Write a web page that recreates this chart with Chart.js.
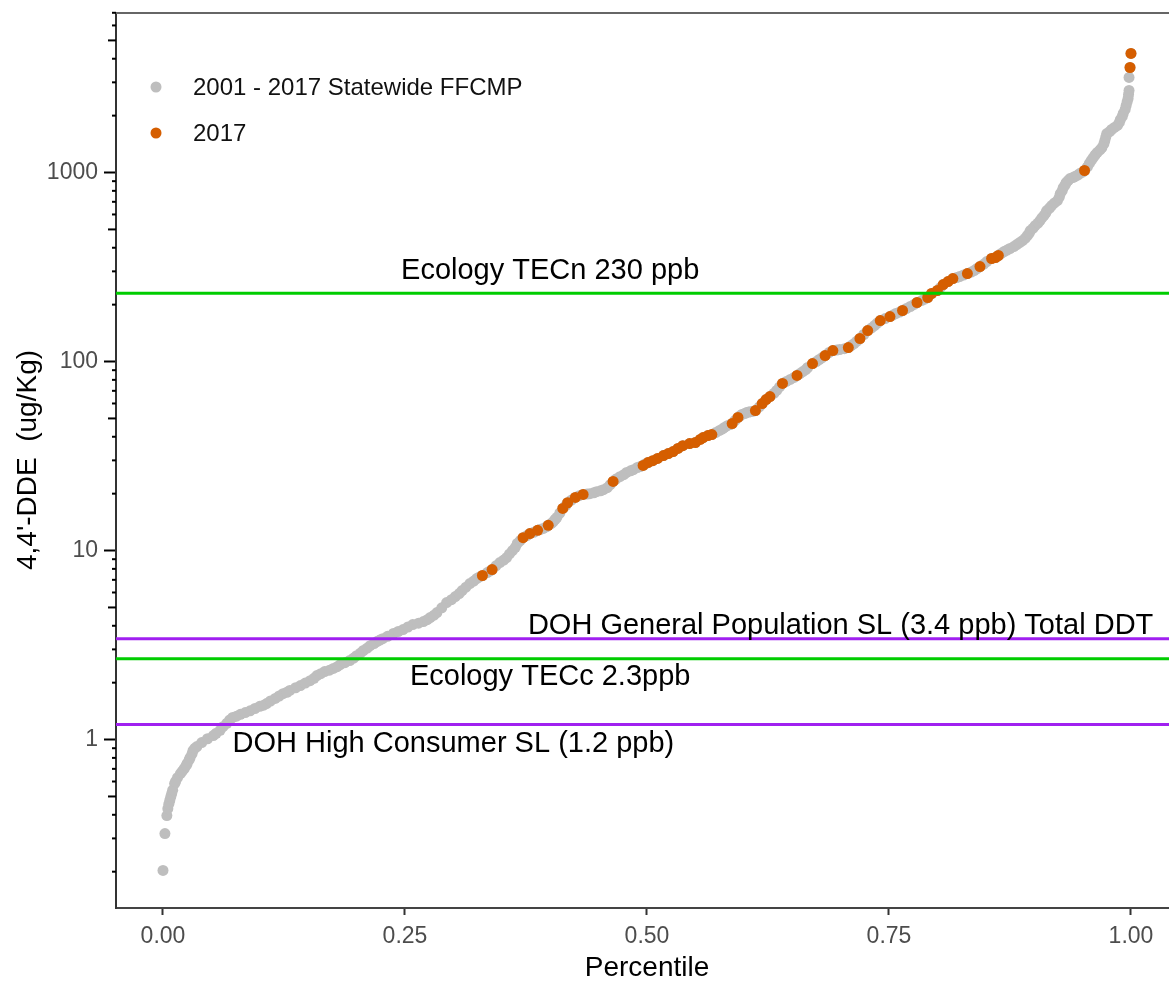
<!DOCTYPE html>
<html><head><meta charset="utf-8">
<script src="https://cdn.jsdelivr.net/npm/chart.js@4.4.1/dist/chart.umd.min.js"></script>
<style>html,body{margin:0;padding:0;background:#fff;overflow:hidden}#wrap{width:1169px;height:981px;position:relative}</style>
</head><body><div id="wrap"><canvas id="c" width="1169" height="981"></canvas></div>
<script>
const FONT = '"Liberation Sans", Arial, Helvetica, sans-serif';

const seriesLabels = ['2001 - 2017 Statewide FFCMP', '2017'];
const seriesColors = ['#BEBEBE', '#D55E00'];

// All samples (percentile, 4,4'-DDE ug/Kg) - first reading pass
const grayPct = [0,0.002,0.004,0.005,0.007,0.009,0.012,0.015,0.018,0.022,0.025,0.028,0.031,0.035,0.040,0.046,0.052,0.059,0.066,0.072,0.080,0.090,0.100,0.107,0.116,0.124,0.131,0.142,0.152,0.159,0.167,0.176,0.183,0.193,0.200,0.207,0.214,0.221,0.227,0.238,0.248,0.258,0.269,0.276,0.283,0.293,0.302,0.309,0.317,0.324,0.330,0.335,0.340,0.348,0.355,0.361,0.366,0.372,0.379,0.387,0.393,0.398,0.403,0.407,0.413,0.418,0.426,0.434,0.441,0.448,0.455,0.459,0.465,0.472,0.479,0.486,0.490,0.496,0.501,0.506,0.511,0.517,0.522,0.527,0.532,0.537,0.544,0.550,0.555,0.558,0.563,0.567,0.571,0.575,0.580,0.583,0.588,0.594,0.598,0.603,0.607,0.612,0.619,0.623,0.627,0.634,0.640,0.648,0.655,0.661,0.666,0.671,0.678,0.684,0.688,0.692,0.699,0.708,0.714,0.720,0.724,0.728,0.735,0.741,0.746,0.751,0.757,0.764,0.772,0.779,0.784,0.790,0.794,0.800,0.806,0.811,0.816,0.823,0.831,0.838,0.844,0.851,0.856,0.860,0.863,0.869,0.875,0.882,0.888,0.893,0.896,0.901,0.906,0.910,0.913,0.918,0.924,0.927,0.930,0.933,0.937,0.942,0.947,0.952,0.957,0.961,0.965,0.970,0.973,0.975,0.980,0.986,0.989,0.992,0.995,0.997,0.998,0.998,0.999,1.0];
const grayVal = [0.203,0.318,0.396,0.431,0.476,0.518,0.585,0.629,0.661,0.703,0.747,0.803,0.875,0.918,0.964,1.01,1.05,1.12,1.22,1.31,1.36,1.42,1.50,1.55,1.65,1.75,1.82,1.93,2.05,2.18,2.29,2.38,2.49,2.62,2.78,2.96,3.14,3.30,3.42,3.64,3.82,4.06,4.21,4.42,4.70,5.31,5.71,6.14,6.69,7.11,7.38,7.65,7.93,8.64,9.18,10.0,10.9,11.7,12.3,12.8,13.1,13.6,14.2,15.0,16.7,17.9,19.1,19.8,20.0,20.5,21.0,21.5,23.2,24.6,25.9,26.8,27.5,28.2,29.2,29.9,30.7,31.8,32.6,33.4,34.7,35.9,36.8,37.3,38.7,39.6,40.6,41.1,42.1,43.2,44.8,45.8,47.0,50.6,52.5,53.7,54.3,55.0,59.9,62.9,65.3,70.3,76.6,80.4,84.4,88.5,93.0,97.6,102.5,107.6,111.6,114.3,115.7,118.6,124.5,132.4,139.0,145.9,155.0,164.8,168.9,173.0,179.5,186.2,195.5,205.3,210.4,218.2,229.1,237.6,255.5,265.0,274.8,281.6,292.1,303.0,318.2,338.2,350.9,355.0,363.9,382.1,396.3,415.9,436.5,464.4,493.3,524.3,557.2,592.2,629.3,668.8,710.8,774,833,885,929,952,988,1025,1117,1200,1276,1356,1476,1608,1689,1774,1907,2053,2262,2464,2716,3184,3594,4266];

// All samples - second reading pass (points between the first-pass readings)
const grayPctB = [0.006,0.008,0.010,0.013,0.020,0.024,0.027,0.030,0.033,0.055,0.062,0.069,0.076,0.085,0.095,0.104,0.111,0.120,0.128,0.137,0.147,0.156,0.163,0.172,0.180,0.188,0.197,0.204,0.211,0.218,0.224,0.232,0.243,0.253,0.264,0.273,0.280,0.288,0.298,0.306,0.313,0.321,0.327,0.338,0.344,0.352,0.358,0.364,0.369,0.376,0.383,0.390,0.396,0.401,0.405,0.410,0.416,0.422,0.430,0.438,0.445,0.452,0.462,0.468,0.476,0.483,0.493,0.498,0.578,0.586,0.591,0.596,0.601,0.605,0.610,0.616,0.631,0.637,0.644,0.652,0.658,0.664,0.675,0.681,0.696,0.704,0.711,0.717,0.732,0.738,0.754,0.761,0.768,0.776,0.787,0.803,0.820,0.827,0.835,0.841,0.848,0.866,0.872,0.879,0.885,0.891,0.895,0.899,0.904,0.908,0.912,0.916,0.921,0.926,0.929,0.932,0.935,0.940,0.945,0.950,0.955,0.959,0.963,0.968,0.972,0.974,0.978,0.983,0.988,0.991,0.994,0.996,0.9975];
const grayValB = [0.455,0.497,0.54,0.60,0.68,0.73,0.78,0.84,0.90,1.08,1.17,1.27,1.33,1.39,1.46,1.52,1.60,1.70,1.78,1.88,1.99,2.11,2.23,2.33,2.43,2.55,2.70,2.87,3.05,3.22,3.36,3.52,3.73,3.94,4.13,4.31,4.55,4.98,5.50,5.92,6.40,6.90,7.25,7.80,8.30,8.90,9.60,10.4,11.3,12.0,12.5,12.95,13.35,13.9,14.6,15.8,17.3,18.5,19.5,19.9,20.2,20.7,22.3,23.9,25.2,26.4,27.8,28.7,44.0,46.4,48.8,51.5,53.1,54.0,54.6,57.5,67.8,73.4,78.5,82.4,86.4,90.7,100,105,115.0,117,121.5,128.4,150.5,159.9,176.2,182.8,190.8,200.4,214,246,278,287,297.5,310.6,328,373,389,406,426,450,478,508,540,575,610,649,690,742,803,859,907,940,970,1006,1070,1158,1238,1316,1416,1540,1648,1731,1840,1980,2157,2363,2590];

// 2017 samples
const orangePct = [0.330,0.340,0.372,0.379,0.387,0.398,0.413,0.418,0.426,0.434,0.465,0.496,0.501,0.506,0.511,0.517,0.522,0.527,0.532,0.537,0.544,0.550,0.555,0.558,0.563,0.567,0.588,0.594,0.612,0.619,0.623,0.627,0.640,0.655,0.671,0.684,0.692,0.708,0.720,0.728,0.741,0.751,0.764,0.779,0.790,0.794,0.800,0.806,0.811,0.816,0.831,0.844,0.856,0.860,0.863,0.952,0.999,1.0];
const orangeVal = [7.38,7.93,11.7,12.3,12.8,13.6,16.7,17.9,19.1,19.8,23.2,28.2,29.2,29.9,30.7,31.8,32.6,33.4,34.7,35.9,36.8,37.3,38.7,39.6,40.6,41.1,47.0,50.6,55.0,59.9,62.9,65.3,76.6,84.4,97.6,107.6,114.3,118.6,132.4,145.9,164.8,173.0,186.2,205.3,218.2,229.1,237.6,255.5,265.0,274.8,292.1,318.2,350.9,355.0,363.9,1025,3594,4266];

const xTicks = [0, 0.25, 0.5, 0.75, 1];
const yTicks = [1, 10, 100, 1000];

// Reference levels
const refValues = [230, 3.42, 2.68, 1.2];
const refColors = ['#00CD00', '#A020F0', '#00CD00', '#A020F0'];
const refTexts = ['Ecology TECn 230 ppb', 'DOH General Population SL (3.4 ppb) Total DDT', 'Ecology TECc 2.3ppb', 'DOH High Consumer SL (1.2 ppb)'];
const refTextX = [0.4, 0.7, 0.4, 0.3];
const refTextY = [300, 4.0, 2.15, 0.95];

const grayData = grayPct.map((p, i) => ({x: p, y: grayVal[i]}))
  .concat(grayPctB.map((p, i) => ({x: p, y: grayValB[i]})));
const orangeData = orangePct.map((p, i) => ({x: p, y: orangeVal[i]}));

const decor = {
  id: 'decor',
  afterDatasetsDraw(chart) {
    const {ctx, chartArea: a, scales: {x, y}} = chart;
    const W = chart.width;
    ctx.save();
    refValues.forEach((v, i) => {
      const py = y.getPixelForValue(v);
      ctx.strokeStyle = refColors[i]; ctx.lineWidth = 3;
      ctx.beginPath(); ctx.moveTo(a.left, py); ctx.lineTo(W, py); ctx.stroke();
    });
    ctx.fillStyle = '#000'; ctx.font = '29px ' + FONT;
    ctx.textAlign = 'center'; ctx.textBaseline = 'middle';
    refTexts.forEach((t, i) => {
      ctx.fillText(t, x.getPixelForValue(refTextX[i]), y.getPixelForValue(refTextY[i]));
    });
    ctx.restore();
  },
  afterDraw(chart) {
    const {ctx, chartArea: a, scales: {x, y}} = chart;
    const W = chart.width;
    ctx.save();
    // top panel border and continuation of bottom axis line to the picture edge
    ctx.strokeStyle = '#666'; ctx.lineWidth = 2;
    ctx.beginPath(); ctx.moveTo(a.left, a.top); ctx.lineTo(W, a.top); ctx.stroke();
    ctx.strokeStyle = '#444';
    ctx.beginPath(); ctx.moveTo(a.right - 1, a.bottom); ctx.lineTo(W, a.bottom); ctx.stroke();
    // minor log ticks
    ctx.strokeStyle = '#000'; ctx.lineWidth = 2;
    for (let k = -2; k <= 4; k++) {
      for (let m = 2; m <= 9; m++) {
        const v = m * Math.pow(10, k);
        const py = y.getPixelForValue(v);
        if (py < a.top - 2 || py > a.bottom) continue;
        const len = m === 5 ? 8 : 4;
        ctx.beginPath(); ctx.moveTo(a.left - len, py); ctx.lineTo(a.left, py); ctx.stroke();
      }
    }
    // legend
    ctx.font = '24px ' + FONT; ctx.textAlign = 'left'; ctx.textBaseline = 'middle';
    const ly = [88, 134];
    seriesLabels.forEach((lab, i) => {
      ctx.fillStyle = seriesColors[i];
      ctx.beginPath(); ctx.arc(156, ly[i] - 1, 5.5, 0, Math.PI * 2); ctx.fill();
      ctx.fillStyle = '#111';
      ctx.fillText(lab, 193, ly[i]);
    });
    // axis titles
    ctx.fillStyle = '#000'; ctx.font = '28px ' + FONT; ctx.textAlign = 'center';
    ctx.fillText('Percentile', x.getPixelForValue(0.5), 968);
    ctx.translate(28, 460); ctx.rotate(-Math.PI / 2);
    ctx.fillText("4,4'-DDE  (ug/Kg)", 0, 0);
    ctx.restore();
  }
};

function noPad(s) { s.paddingTop = 0; s.paddingBottom = 0; s.paddingLeft = 0; s.paddingRight = 0; }

new Chart(document.getElementById('c'), {
  type: 'scatter',
  data: {
    datasets: [
      { label: seriesLabels[1], data: orangeData,
        backgroundColor: seriesColors[1], borderWidth: 0, pointRadius: 5.5, pointHoverRadius: 5.5, order: 0 },
      { label: seriesLabels[0], data: grayData,
        backgroundColor: seriesColors[0], borderWidth: 0, pointRadius: 5.5, pointHoverRadius: 5.5, order: 1 }
    ]
  },
  options: {
    responsive: false, animation: false, devicePixelRatio: 1,
    layout: {padding: {top: 13, right: 0, left: 0, bottom: 0}},
    plugins: {legend: {display: false}, tooltip: {enabled: false}},
    scales: {
      x: {
        type: 'linear', min: -0.04855, max: 1.0336,
        afterBuildTicks: s => { s.ticks = xTicks.map(v => ({value: v})); },
        afterFit: s => { s.height = 73; noPad(s); },
        grid: {display: true, drawOnChartArea: false, drawTicks: true, tickLength: 7, tickColor: '#333', tickWidth: 2},
        border: {display: true, color: '#444', width: 2},
        ticks: {color: '#4D4D4D', font: {family: FONT, size: 23}, padding: 8, maxRotation: 0, autoSkip: false,
          callback: v => Number(v).toFixed(2)}
      },
      y: {
        type: 'logarithmic', min: 0.1285, max: 6982,
        afterBuildTicks: s => { s.ticks = yTicks.map(v => ({value: v, major: true})); },
        afterFit: s => { s.width = 116; noPad(s); },
        grid: {display: true, drawOnChartArea: false, drawTicks: true, tickLength: 12, tickColor: '#000', tickWidth: 2},
        border: {display: true, color: '#333', width: 2},
        ticks: {color: '#4D4D4D', font: {family: FONT, size: 23}, padding: 6, autoSkip: false,
          callback: v => String(v)}
      }
    }
  },
  plugins: [decor]
});
</script></body></html>
